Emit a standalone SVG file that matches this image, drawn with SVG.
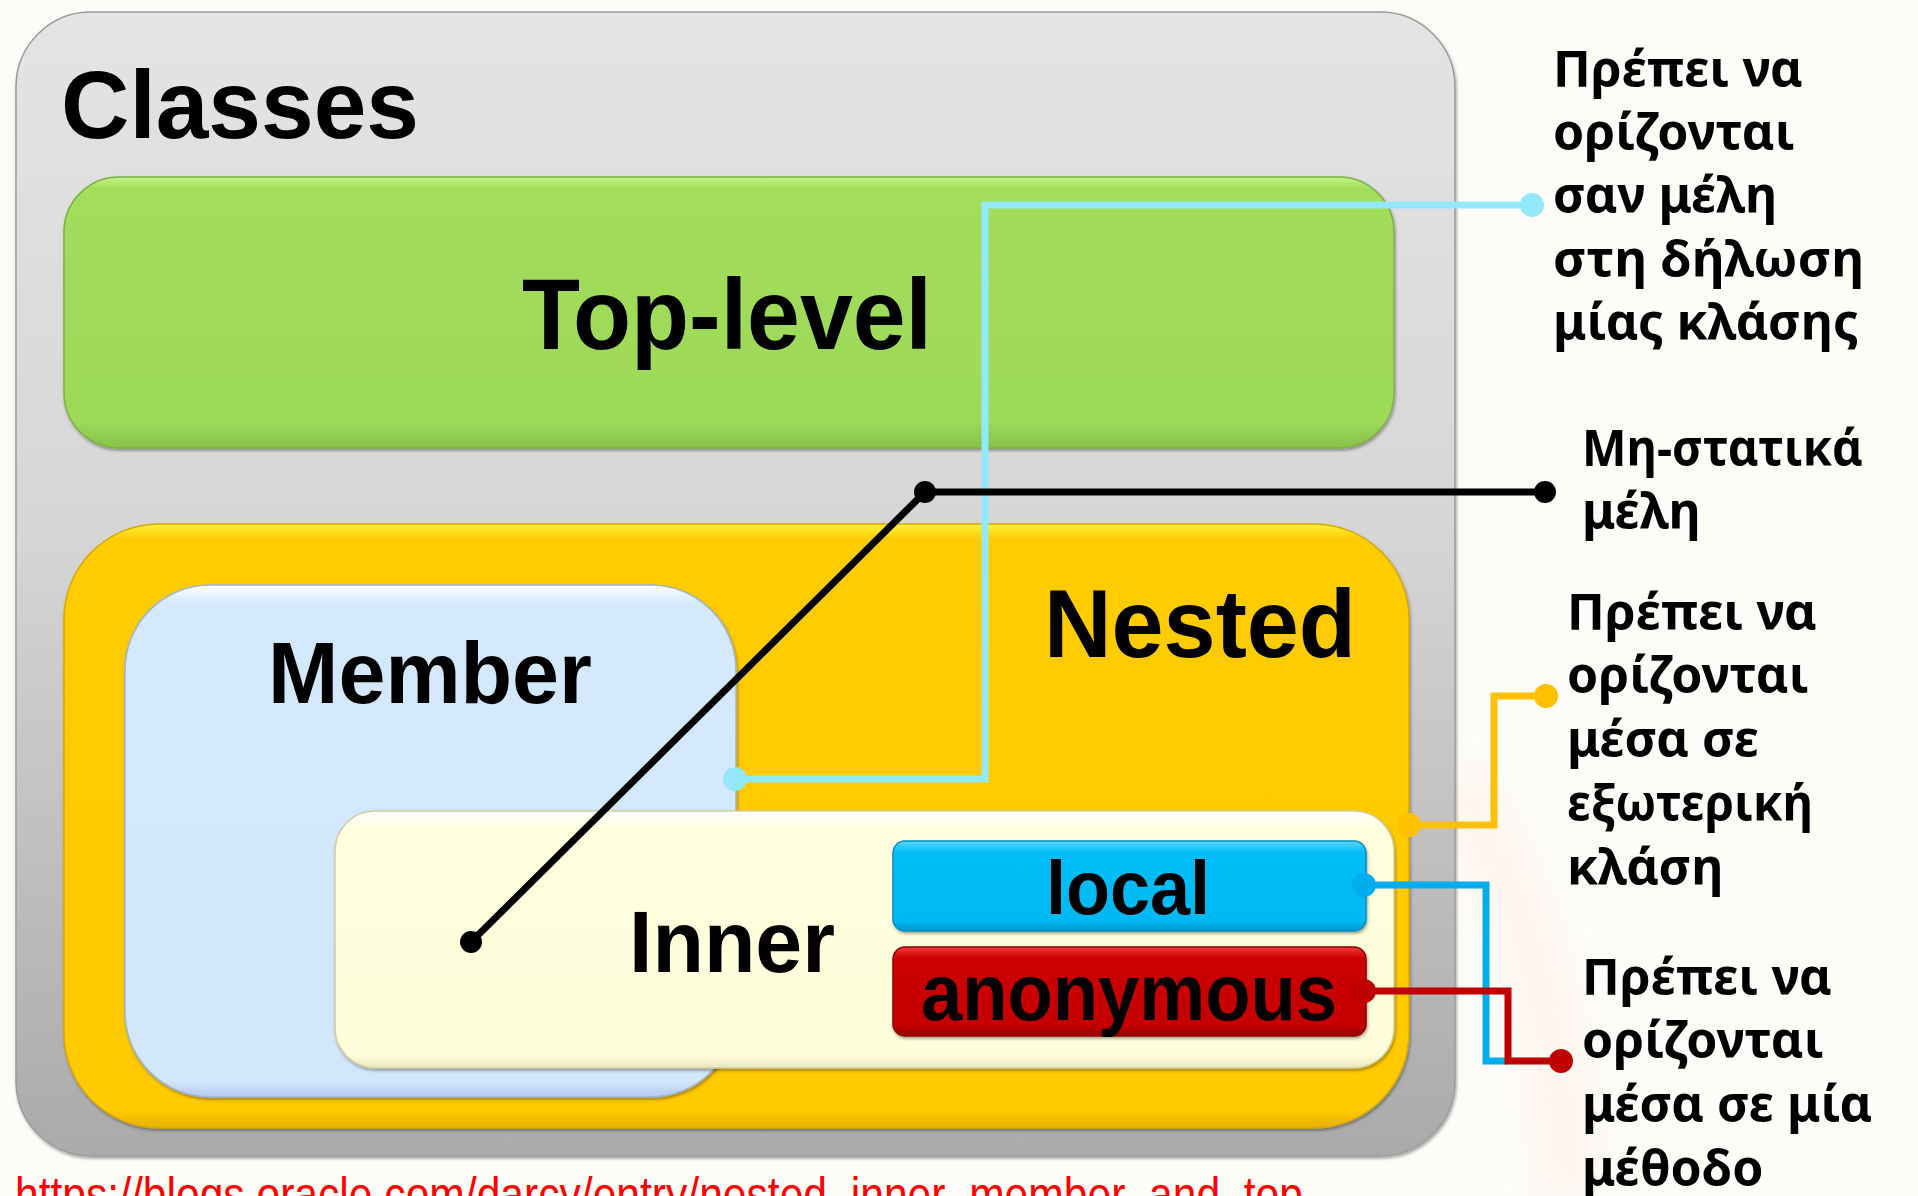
<svg xmlns="http://www.w3.org/2000/svg" width="1918" height="1196" viewBox="0 0 1918 1196">
  <defs>
    <linearGradient id="gGray" x1="0" y1="0" x2="0" y2="1">
      <stop offset="0" stop-color="#E4E4E4"/>
      <stop offset="0.45" stop-color="#D6D6D6"/>
      <stop offset="1" stop-color="#AAAAAA"/>
    </linearGradient>
    <linearGradient id="gGreen" x1="0" y1="0" x2="0" y2="1">
      <stop offset="0" stop-color="#C8F58A"/>
      <stop offset="0.04" stop-color="#A2DD5C"/>
      <stop offset="0.9" stop-color="#9DDA58"/>
      <stop offset="1" stop-color="#86C147"/>
    </linearGradient>
    <linearGradient id="gYellow" x1="0" y1="0" x2="0" y2="1">
      <stop offset="0" stop-color="#FFF23A"/>
      <stop offset="0.025" stop-color="#FFCC05"/>
      <stop offset="0.97" stop-color="#FFCA05"/>
      <stop offset="1" stop-color="#E6B000"/>
    </linearGradient>
    <linearGradient id="gMember" x1="0" y1="0" x2="0" y2="1">
      <stop offset="0" stop-color="#FFFFFF"/>
      <stop offset="0.035" stop-color="#D4E9FE"/>
      <stop offset="0.97" stop-color="#D2E7FC"/>
      <stop offset="1" stop-color="#B4C9EE"/>
    </linearGradient>
    <linearGradient id="gInner" x1="0" y1="0" x2="0" y2="1">
      <stop offset="0" stop-color="#FFFFFF"/>
      <stop offset="0.07" stop-color="#FFFFDE"/>
      <stop offset="0.95" stop-color="#FEFEDA"/>
      <stop offset="1" stop-color="#E9E6BC"/>
    </linearGradient>
    <linearGradient id="gLocal" x1="0" y1="0" x2="0" y2="1">
      <stop offset="0" stop-color="#5CD8FF"/>
      <stop offset="0.12" stop-color="#05BDF7"/>
      <stop offset="0.88" stop-color="#02B9F3"/>
      <stop offset="1" stop-color="#0398CC"/>
    </linearGradient>
    <linearGradient id="gAnon" x1="0" y1="0" x2="0" y2="1">
      <stop offset="0" stop-color="#F03A3A"/>
      <stop offset="0.12" stop-color="#CC0202"/>
      <stop offset="0.88" stop-color="#C50000"/>
      <stop offset="1" stop-color="#960000"/>
    </linearGradient>
    <filter id="shadow" x="-5%" y="-5%" width="110%" height="110%">
      <feDropShadow dx="1" dy="2" stdDeviation="1.6" flood-color="#000" flood-opacity="0.35"/>
    </filter>
    <filter id="soft" x="-50%" y="-50%" width="200%" height="200%">
      <feGaussianBlur stdDeviation="14"/>
    </filter>
  </defs>
  <style>
    .box { filter: url(#shadow); }
    .title { font-family: "Liberation Sans", Arial, sans-serif; font-weight: bold; fill: #000; }
    .note { font-family: "Noto Sans", "Open Sans", sans-serif; font-weight: bold; font-size: 50px; fill: #000; }
    .url { font-family: "Liberation Sans", Arial, sans-serif; font-size: 50px; fill: #FF0000; }
    .wire { fill: none; stroke-linejoin: miter; stroke-linecap: butt; }
  </style>

  <rect x="0" y="0" width="1918" height="1196" fill="#FDFCF9"/>
  <!-- faint background swoosh -->
  <path d="M1450,780 C1520,880 1555,1000 1570,1196" fill="none" stroke="#FCF2E6" stroke-width="70" filter="url(#soft)" opacity="0.55"/>

  <!-- outer container -->
  <g id="node-classes">
    <rect class="box" x="16" y="12" width="1439" height="1144" rx="75" fill="url(#gGray)" stroke="#9C9C9C" stroke-width="1.5"/>
    <text class="title" x="61" y="138" font-size="97" textLength="358" lengthAdjust="spacingAndGlyphs">Classes</text>
  </g>

  <g id="node-toplevel">
    <rect class="box" x="64" y="177" width="1330" height="271" rx="55" fill="url(#gGreen)" stroke="#7FB045" stroke-width="1.5"/>
    <text class="title" x="522" y="349" font-size="100" textLength="410" lengthAdjust="spacingAndGlyphs">Top-level</text>
  </g>

  <g id="node-nested">
    <rect class="box" x="64" y="524" width="1345" height="604" rx="95" fill="url(#gYellow)" stroke="#D9A800" stroke-width="1.5"/>
    <text class="title" x="1044" y="657" font-size="97" textLength="312" lengthAdjust="spacingAndGlyphs">Nested</text>
  </g>

  <g id="node-member">
    <rect class="box" x="125" y="585" width="611" height="512" rx="85" fill="url(#gMember)" stroke="#9FB3D8" stroke-width="1.5"/>
    <text class="title" x="268" y="703" font-size="88" textLength="324" lengthAdjust="spacingAndGlyphs">Member</text>
  </g>

  <g id="node-inner">
    <rect class="box" x="335" y="811" width="1059" height="257" rx="40" fill="url(#gInner)" stroke="#D2CCA0" stroke-width="1.5"/>
    <text class="title" x="629" y="972" font-size="88" textLength="206" lengthAdjust="spacingAndGlyphs">Inner</text>
  </g>

  <g id="node-local">
    <rect class="box" x="893" y="841" width="473" height="90" rx="12" fill="url(#gLocal)" stroke="#0390C2" stroke-width="1.5"/>
    <text class="title" x="1046" y="914" font-size="76" textLength="164" lengthAdjust="spacingAndGlyphs">local</text>
  </g>

  <g id="node-anonymous">
    <rect class="box" x="893" y="947" width="473" height="89" rx="12" fill="url(#gAnon)" stroke="#8E0000" stroke-width="1.5"/>
    <text class="title" x="921" y="1020" font-size="80" textLength="416" lengthAdjust="spacingAndGlyphs">anonymous</text>
  </g>

  <!-- connectors -->
  <g id="connectors">
    <g id="wire-member">
      <polyline class="wire" points="735,779 985,779 985,205 1532,205" stroke="#94E8FC" stroke-width="7"/>
      <circle cx="735" cy="779" r="12" fill="#94E8FC"/>
      <circle cx="1532" cy="205" r="12" fill="#94E8FC"/>
    </g>
    <g id="wire-inner">
      <polyline class="wire" points="471,942 925,492 1545,492" stroke="#000" stroke-width="7"/>
      <circle cx="471" cy="942" r="11" fill="#000"/>
      <circle cx="925" cy="492" r="11" fill="#000"/>
      <circle cx="1545" cy="492" r="11" fill="#000"/>
    </g>
    <g id="wire-nested">
      <polyline class="wire" points="1409,825 1494,825 1494,696 1546,696" stroke="#FFC000" stroke-width="7"/>
      <circle cx="1409" cy="825" r="12" fill="#FFC000"/>
      <circle cx="1546" cy="696" r="12" fill="#FFC000"/>
    </g>
    <g id="wire-local">
      <polyline class="wire" points="1364,885 1486,885 1486,1061 1508,1061" stroke="#00AEEF" stroke-width="7"/>
      <circle cx="1364" cy="885" r="12" fill="#00AEEF"/>
    </g>
    <g id="wire-anonymous">
      <polyline class="wire" points="1364,991 1508,991 1508,1061 1561,1061" stroke="#C00000" stroke-width="7"/>
      <circle cx="1364" cy="991" r="12" fill="#C00000"/>
      <circle cx="1561" cy="1061" r="12" fill="#C00000"/>
    </g>
  </g>

  <!-- annotations -->
  <g id="note-member">
    <text class="note" x="1553" y="87">Πρέπει να</text>
    <text class="note" x="1553" y="150">ορίζονται</text>
    <text class="note" x="1553" y="213">σαν μέλη</text>
    <text class="note" x="1553" y="277" textLength="311" lengthAdjust="spacingAndGlyphs">στη δήλωση</text>
    <text class="note" x="1553" y="340">μίας κλάσης</text>
  </g>
  <g id="note-inner">
    <text class="note" x="1582" y="466" textLength="281" lengthAdjust="spacingAndGlyphs">Μη-στατικά</text>
    <text class="note" x="1582" y="529">μέλη</text>
  </g>
  <g id="note-nested">
    <text class="note" x="1567" y="630">Πρέπει να</text>
    <text class="note" x="1567" y="693">ορίζονται</text>
    <text class="note" x="1567" y="757">μέσα σε</text>
    <text class="note" x="1567" y="821" textLength="246" lengthAdjust="spacingAndGlyphs">εξωτερική</text>
    <text class="note" x="1567" y="885">κλάση</text>
  </g>
  <g id="note-local">
    <text class="note" x="1582" y="995">Πρέπει να</text>
    <text class="note" x="1582" y="1058">ορίζονται</text>
    <text class="note" x="1582" y="1122">μέσα σε μία</text>
    <text class="note" x="1582" y="1186">μέθοδο</text>
  </g>

  <text class="url" x="15" y="1212" textLength="1288" lengthAdjust="spacingAndGlyphs">https://blogs.oracle.com/darcy/entry/nested_inner_member_and_top</text>
</svg>
